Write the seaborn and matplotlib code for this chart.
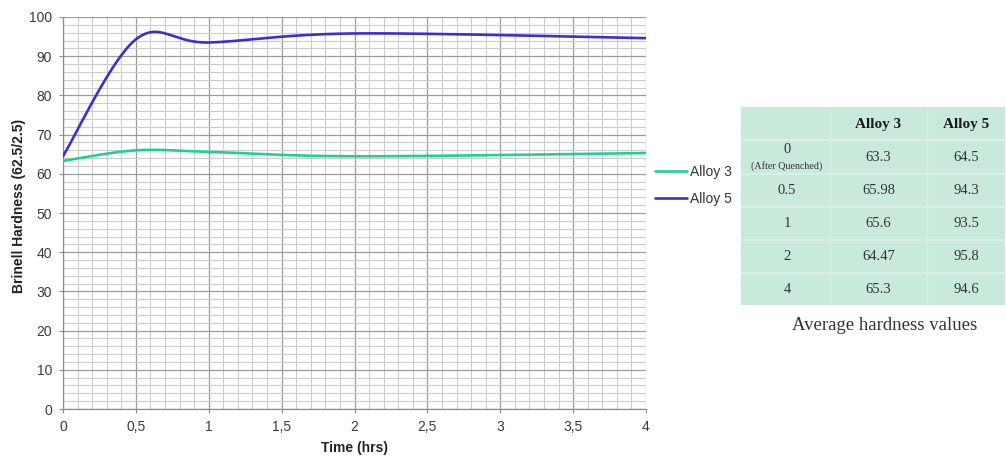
import numpy as np
import pandas as pd
import matplotlib
matplotlib.use("Agg")
import matplotlib.pyplot as plt
import seaborn as sns
from matplotlib.ticker import MultipleLocator, FuncFormatter
from matplotlib.lines import Line2D
from matplotlib.patches import Rectangle

# Measured average hardness (Brinell 62.5/2.5) after ageing
time_hrs = [0, 0.5, 1, 2, 4]
alloy3 = [63.3, 65.98, 65.6, 64.47, 65.3]
alloy5 = [64.5, 94.3, 93.5, 95.8, 94.6]
series_names = ["Alloy 3", "Alloy 5"]
series_colors = ["#1fd096", "#3a2fd0"]

# Summary table text
table_header = ["", "Alloy 3", "Alloy 5"]
table_rows = ["0", "0.5", "1", "2", "4"]
alloy3_text = ["63.3", "65.98", "65.6", "64.47", "65.3"]
alloy5_text = ["64.5", "94.3", "93.5", "95.8", "94.6"]


def smooth_curve(xs, ys, n=60):
    """Cubic Bezier smoothing through the measured points (spreadsheet-style)."""
    pts = np.column_stack([xs, ys]).astype(float)
    ext = np.vstack([pts[0], pts, pts[-1]])
    segs = []
    for i in range(len(pts) - 1):
        p0, p1, p2, p3 = ext[i], ext[i + 1], ext[i + 2], ext[i + 3]
        c1 = p1 + (p2 - p0) / 6.0
        c2 = p2 - (p3 - p1) / 6.0
        t = np.linspace(0, 1, n, endpoint=(i == len(pts) - 2))[:, None]
        segs.append((1 - t) ** 3 * p1 + 3 * (1 - t) ** 2 * t * c1
                    + 3 * (1 - t) * t ** 2 * c2 + t ** 3 * p2)
    return np.vstack(segs)


frames = []
for name, vals in zip(series_names, [alloy3, alloy5]):
    c = smooth_curve(time_hrs, vals)
    frames.append(pd.DataFrame({"time": c[:, 0], "hardness": c[:, 1], "alloy": name}))
df = pd.concat(frames, ignore_index=True)

sns.set_theme(style="white")
plt.rcParams["font.family"] = ["Liberation Sans", "DejaVu Sans"]

W, H = 1006, 461
fig = plt.figure(figsize=(W / 100, H / 100), dpi=100)
fig.patch.set_facecolor("white")

x0, x1, y0, y1 = 63, 646, 17, 409
ax = fig.add_axes([x0 / W, 1 - y1 / H, (x1 - x0) / W, (y1 - y0) / H])

sns.lineplot(data=df, x="time", y="hardness", hue="alloy", hue_order=series_names,
             palette=series_colors, sort=False, estimator=None, linewidth=1.9,
             legend=False, ax=ax, zorder=3)

ax.set_xlim(0, 4)
ax.set_ylim(0, 100)
ax.xaxis.set_major_locator(MultipleLocator(0.5))
ax.xaxis.set_minor_locator(MultipleLocator(0.1))
ax.yaxis.set_major_locator(MultipleLocator(10))
ax.yaxis.set_minor_locator(MultipleLocator(2))
ax.xaxis.set_major_formatter(FuncFormatter(lambda v, p: f"{v:g}".replace(".", ",")))

ax.grid(which="major", color="#9c9c9c", linewidth=0.9)
ax.grid(which="minor", color="#cccccc", linewidth=0.8)
ax.set_axisbelow(True)
for side in ["top", "right"]:
    ax.spines[side].set_visible(False)
for side in ["left", "bottom"]:
    ax.spines[side].set_color("#8c8c8c")
    ax.spines[side].set_linewidth(0.9)

ax.tick_params(axis="both", which="major", length=3, width=0.8, color="#8c8c8c",
               labelsize=10, labelcolor="#3a3a3a", pad=5, bottom=True, left=True)
ax.tick_params(axis="both", which="minor", length=0)

ax.set_xlabel("Time (hrs)", fontsize=10, fontweight="bold", color="#222222")
ax.set_ylabel("Brinell Hardness (62.5/2.5)", fontsize=10, fontweight="bold", color="#222222")
ax.xaxis.set_label_coords(0.5, -(441 - y1) / (y1 - y0))
ax.yaxis.set_label_coords(-(63 - 26) / (x1 - x0), (y1 - 206) / (y1 - y0))

handles = [Line2D([0], [0], color=c, linewidth=1.9) for c in series_colors]
fig.legend(handles, series_names, loc="upper left",
           bbox_to_anchor=(655 / W, 1 - 165 / H), frameon=False, fontsize=10,
           handlelength=2.3, handletextpad=0.25, labelspacing=0.95,
           labelcolor="#333333", borderaxespad=0, borderpad=0)

# Summary table drawn in pixel coordinates
tab = fig.add_axes([0, 0, 1, 1], zorder=5)
tab.set_xlim(0, W)
tab.set_ylim(H, 0)
tab.axis("off")

col_edges = [741, 830, 927, 1005]
row_edges = [107, 140, 174, 207, 240, 273, 305]
tab.add_patch(Rectangle((col_edges[0], row_edges[0]), col_edges[-1] - col_edges[0],
                        row_edges[-1] - row_edges[0], facecolor="#c9eadb",
                        edgecolor="none"))
for ye in row_edges[1:-1]:
    tab.plot([col_edges[0], col_edges[-1]], [ye, ye], color="#def2e9", linewidth=1.2)
for xe in col_edges[1:-1]:
    tab.plot([xe, xe], [row_edges[0], row_edges[-1]], color="#d6efe3", linewidth=1.0)

serif = ["Liberation Serif", "DejaVu Serif"]
cx = [(col_edges[i] + col_edges[i + 1]) / 2 for i in range(3)]
cx[0] = 787
for j, h in enumerate(table_header[1:], start=1):
    tab.text(cx[j], (row_edges[0] + row_edges[1]) / 2 + 1, h, ha="center", va="center",
             family=serif, fontsize=11, fontweight="bold", color="#1a1a1a")
for i, r in enumerate(table_rows):
    yc = (row_edges[i + 1] + row_edges[i + 2]) / 2
    if i == 0:
        tab.text(cx[0], yc - 8, r, ha="center", va="center", family=serif,
                 fontsize=10.5, color="#333333")
        tab.text(cx[0], yc + 9, "(After Quenched)", ha="center", va="center",
                 family=serif, fontsize=7.2, color="#333333")
    else:
        tab.text(cx[0], yc, r, ha="center", va="center", family=serif,
                 fontsize=10.5, color="#333333")
    tab.text(cx[1], yc, alloy3_text[i], ha="center", va="center", family=serif,
             fontsize=10.5, color="#333333")
    tab.text(cx[2], yc, alloy5_text[i], ha="center", va="center", family=serif,
             fontsize=10.5, color="#333333")

tab.text(885, 325, "Average hardness values", ha="center", va="center", family=serif,
         fontsize=13.5, color="#333333")

fig.savefig("out.png", dpi=100, facecolor="white")
